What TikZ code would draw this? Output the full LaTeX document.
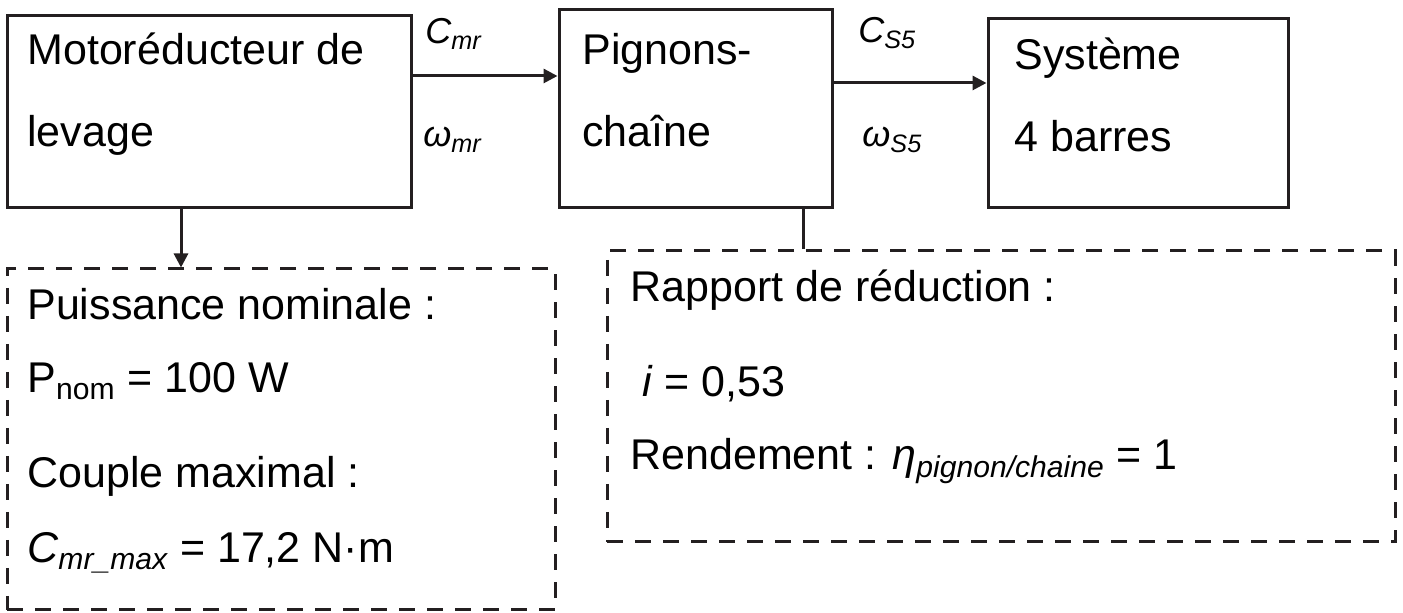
\documentclass[tikz,border=0pt]{standalone}
\usepackage{fontspec}
\setmainfont{Liberation Sans}
\usepackage{tikz}
\usetikzlibrary{arrows.meta, positioning}
\usepackage{xcolor}
\definecolor{trait}{RGB}{35,31,32}

\begin{document}
\begin{tikzpicture}[
        line join=miter,
        bloc/.style={shape=rectangle, draw=trait, line width=1.5pt, inner sep=0pt},
        cadre/.style={shape=rectangle, draw=trait, line width=1.5pt, dash pattern=on 8pt off 6pt, inner sep=0pt},
        texte/.style={anchor=base west, inner sep=0pt, font=\fontsize{21.5}{26}\selectfont},
        etiquette/.style={anchor=base west, inner sep=0pt, font=\fontsize{18}{22}\selectfont\itshape},
        fleche/.style={draw=trait, line width=1.5pt, -{Triangle[length=7pt, width=7pt]}}
    ]
        \useasboundingbox (0pt, 0pt) rectangle (701.5pt, 306.5pt);
        % Blocks
        \node[bloc, minimum width=202pt, minimum height=96pt] (mot) at (104.5pt, 250.5pt) {};
        \node[bloc, minimum width=136.5pt, minimum height=99pt] (pig) at (347.75pt, 252pt) {};
        \node[bloc, minimum width=150pt, minimum height=94.5pt] (sys) at (569pt, 249.75pt) {};
        % Dashed frames
        \node[cadre, minimum width=274pt, minimum height=170.5pt] (moteur) at (140.5pt, 86.75pt) {};
        \node[cadre, minimum width=394pt, minimum height=145.5pt] (rapport) at (500.5pt, 108.25pt) {};
        % Block texts
        \node[texte] (mot1) at (13.5pt, 274pt) {Motoréducteur de};
        \node[texte] (mot2) at (13.5pt, 233pt) {levage};
        \node[texte] (pig1) at (291pt, 274pt) {Pignons-};
        \node[texte] (pig2) at (291pt, 233pt) {chaîne};
        \node[texte] (sys1) at (507pt, 271.5pt) {Système};
        \node[texte] (sys2) at (507pt, 230.5pt) {4 barres};
        % Links
        \draw[fleche] ([yshift=18pt]mot.east) coordinate (a1) -- (a1 -| pig.west);
        \draw[fleche] ([yshift=13pt]pig.east) coordinate (a2) -- (a2 -| sys.west);
        \draw[fleche] ([xshift=-14pt]mot.south) coordinate (a3) -- (a3 |- moteur.north);
        \draw[draw=trait, line width=1.5pt] ([xshift=53.75pt]pig.south) coordinate (a4) -- (a4 |- rapport.north);
        % Link labels
        \node[etiquette] (cmr) at (212.5pt, 284.5pt) {C\textsubscript{mr}};
        \node[etiquette] (wmr) at (211.5pt, 233pt) {ω\textsubscript{mr}};
        \node[etiquette] (cs5) at (429pt, 285pt) {C\textsubscript{S5}};
        \node[etiquette] (ws5) at (431pt, 233pt) {ω\textsubscript{S5}};
        % Frame texts
        \node[texte] (puis) at (13.5pt, 146.5pt) {Puissance nominale :};
        \node[texte] (pnom) at (13.5pt, 110pt) {P\textsubscript{nom} = 100 W};
        \node[texte] (coup) at (13.5pt, 62.5pt) {Couple maximal :};
        \node[texte] (cmax) at (13.5pt, 25pt) {\textit{C\textsubscript{mr\_max}} = 17,2 N·m};
        \node[texte] (red) at (315pt, 155.5pt) {Rapport de réduction :};
        \node[texte] (ival) at (315pt, 108pt) {~\textit{i} = 0,53};
        \node[texte] (rend) at (315pt, 71.5pt) {Rendement : \textit{η\textsubscript{pignon/chaine}} = 1};
    \end{tikzpicture}
\end{document}
